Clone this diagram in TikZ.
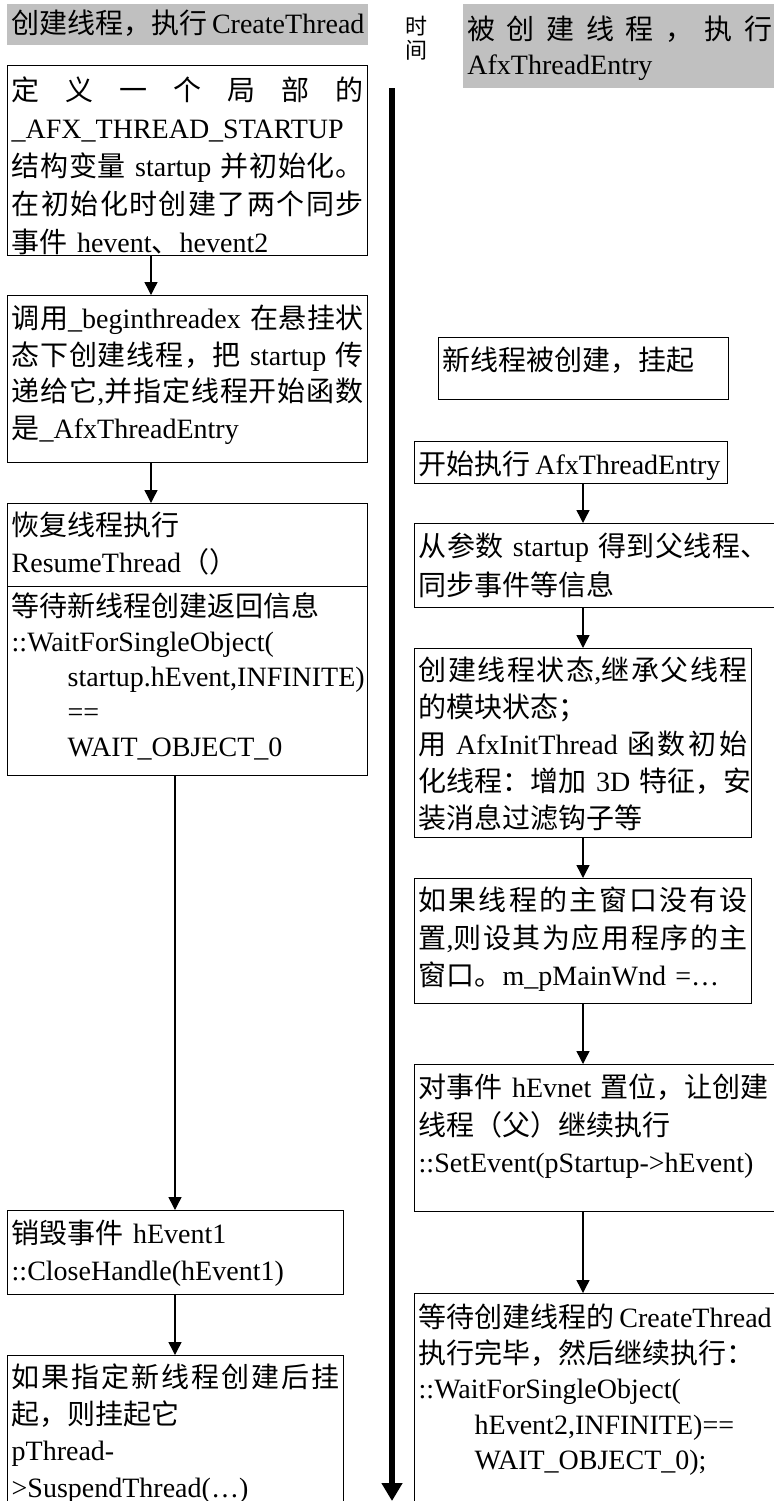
\documentclass[tikz,border=0pt]{standalone}
\usepackage{fontspec}
\setmainfont{Liberation Serif}
\newfontfamily\enfont{Liberation Serif}
\newfontfamily\zhfont{Noto Sans CJK SC}
\usetikzlibrary{arrows.meta}

% Chinese characters get the CJK font
\newXeTeXintercharclass\zhclass
\newcount\zhcode
\def\setzhrange#1#2{\zhcode=#1\relax
  \loop\XeTeXcharclass\zhcode=\zhclass
  \advance\zhcode by 1
  \ifnum\zhcode<#2\repeat}
\setzhrange{"3000}{"3040}
\setzhrange{"4E00}{"A000}
\setzhrange{"FF00}{"FFF0}
\XeTeXinterchartokenstate=1
\XeTeXinterchartoks 0 \zhclass={\zhfont}
\XeTeXinterchartoks 4095 \zhclass={\zhfont}
\XeTeXinterchartoks \zhclass 0={\enfont}
\XeTeXinterchartoks \zhclass 4095={\enfont}
\XeTeXinterchartoks \zhclass \zhclass={\hskip0pt plus 0.3em\relax}

\definecolor{headgray}{RGB}{192,192,192}
\newcommand\jline[2][\hsize]{\makebox[#1][s]{#2}}

\tikzset{
  flow/.style={draw, line width=0.7pt, anchor=north west, align=left,
    inner xsep=2pt, inner ysep=0pt, text height=16pt,
    font=\fontsize{14pt}{18.5pt}\selectfont},
  headbox/.style={fill=headgray, anchor=north west, align=left,
    inner xsep=2pt, inner ysep=0pt,
    font=\fontsize{14pt}{18.5pt}\selectfont},
  flowarrow/.style={-{Triangle[length=6.5pt,width=6.5pt]}, line width=0.7pt},
  timeline/.style={line width=3pt, -{Triangle[length=9pt,width=10pt]}}
}

\begin{document}
\begin{tikzpicture}[x=0.5pt,y=-0.5pt]
\useasboundingbox (0,0) rectangle (774,1501);

\node[headbox, text width=176.5pt, text height=14.5pt, text depth=6pt] (headL) at (7,4) {\mbox{创建线程，执行\,CreateThread}};
\node[headbox, text width=152.5pt, text height=17.5pt, text depth=24.5pt,
  font=\fontsize{14pt}{17.5pt}\selectfont] (headR) at (463,4) {\jline{被创建线程，执行}\\AfxThreadEntry};
\node[font=\fontsize{11pt}{12pt}\selectfont, align=center, inner sep=0pt] (tlabel) at (416,38) {时\\间};

% parent thread
\node[flow, text width=176pt, text height=17.5pt, text depth=77.5pt,
  font=\fontsize{14pt}{19pt}\selectfont] (init) at (7,65)
  {\jline{定义一个局部的}\\\_AFX\_THREAD\_STARTUP\\\jline{结构变量 startup 并初始化。}\\\jline{在初始化时创建了两个同步}\\事件 hevent、hevent2};
\node[flow, text width=176pt, text height=16.5pt, text depth=67pt,
  font=\fontsize{14pt}{18.25pt}\selectfont] (beginex) at (7,295)
  {\jline{调用\_beginthreadex 在悬挂状}\\\jline{态下创建线程，把 startup 传}\\\jline{递给它,并指定线程开始函数}\\是\_AfxThreadEntry};
\node[flow, text width=176pt, text depth=25.5pt] (resume) at (7,503)
  {恢复线程执行\\ResumeThread（）};
\node[flow, text width=176pt, text height=15pt, text depth=79.5pt,
  font=\fontsize{14pt}{17.5pt}\selectfont] (waitnew) at (7,586)
  {等待新线程创建返回信息\\::WaitForSingleObject(\\\hspace*{2em}startup.hEvent,INFINITE)\\\hspace*{2em}==\\\hspace*{2em}WAIT\_OBJECT\_0};
\node[flow, text width=164pt, text height=16.5pt, text depth=25.5pt] (closeev) at (7,1210)
  {销毁事件 hEvent1\\::CloseHandle(hEvent1)};
\node[flow, text width=164pt, text depth=64pt,
  font=\fontsize{14pt}{18.25pt}\selectfont] (suspend) at (7,1355)
  {\jline{如果指定新线程创建后挂}\\起，则挂起它\\pThread-\\>SuspendThread(…)};

% new thread
\node[flow, text width=141pt, text height=16.5pt, text depth=14.5pt] (newsusp) at (438,337)
  {新线程被创建，挂起};
\node[flow, text width=152.5pt, text height=16.5pt, text depth=4.5pt] (entry) at (414,441)
  {\mbox{开始执行\,AfxThreadEntry}};
\node[flow, text width=180pt, text height=16.5pt, text depth=25.5pt,
  font=\fontsize{14pt}{19.5pt}\selectfont] (params) at (414,523)
  {\jline[175pt]{从参数 startup 得到父线程、}\\同步事件等信息};
\node[flow, text width=164.5pt, text depth=78.5pt] (modstate) at (414,648)
  {\jline{创建线程状态,继承父线程}\\的模块状态；\\\jline{用 AfxInitThread 函数初始}\\\jline{化线程：增加 3D 特征，安}\\装消息过滤钩子等};
\node[flow, text width=164.5pt, text depth=46.5pt,
  font=\fontsize{14pt}{18.75pt}\selectfont] (mainwnd) at (414,878)
  {\jline{如果线程的主窗口没有设}\\\jline{置,则设其为应用程序的主}\\窗口。m\_pMainWnd =…};
\node[flow, text width=180pt, text height=16.5pt, text depth=57pt,
  font=\fontsize{14pt}{18.75pt}\selectfont] (setev) at (414,1064)
  {\jline[175pt]{对事件 hEvnet 置位，让创建}\\线程（父）继续执行\\::SetEvent(pStartup->hEvent)};
\node[flow, text width=180pt, text height=17pt, text depth=94pt,
  font=\fontsize{14pt}{17.75pt}\selectfont] (waitcreate) at (414,1293)
  {\mbox{等待创建线程的\,CreateThread}\\执行完毕，然后继续执行：\\::WaitForSingleObject(\\\hspace*{2em}hEvent2,INFINITE)==\\\hspace*{2em}WAIT\_OBJECT\_0);};

\coordinate (la) at (151,0);
\coordinate (lb) at (175,0);
\coordinate (ra) at (583,0);
\draw[flowarrow] (init.south -| la) -- (beginex.north -| la);
\draw[flowarrow] (beginex.south -| la) -- (resume.north -| la);
\draw[flowarrow] (waitnew.south -| lb) -- (closeev.north -| lb);
\draw[flowarrow] (closeev.south -| lb) -- (suspend.north -| lb);
\draw[flowarrow] (entry.south -| ra) -- (params.north -| ra);
\draw[flowarrow] (params.south -| ra) -- (modstate.north -| ra);
\draw[flowarrow] (modstate.south -| ra) -- (mainwnd.north -| ra);
\draw[flowarrow] (mainwnd.south -| ra) -- (setev.north -| ra);
\draw[flowarrow] (setev.south -| ra) -- (waitcreate.north -| ra);

\coordinate (tstart) at (392,88);
\coordinate (tend) at (392,1501);
\draw[timeline] (tstart) -- (tend);
\end{tikzpicture}
\end{document}
